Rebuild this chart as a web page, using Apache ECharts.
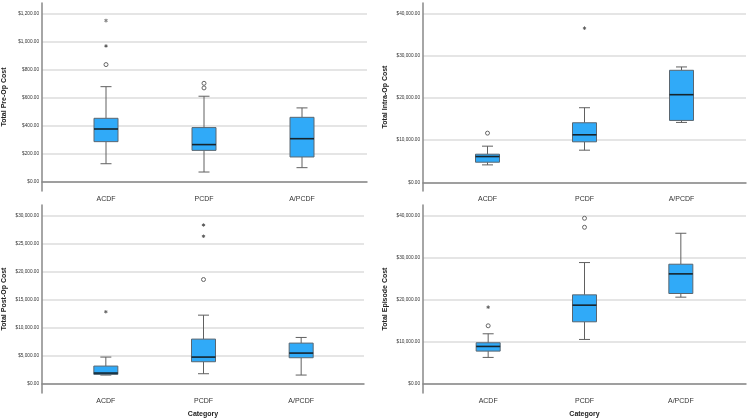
<!DOCTYPE html>
<html><head><meta charset="utf-8">
<script src="https://cdn.jsdelivr.net/npm/echarts@6/dist/echarts.min.js"></script>
<style>html,body{margin:0;padding:0;background:#fff}#c{width:750px;height:420px}</style>
</head><body><div id="c"></div>
<script>
const categories = ['ACDF', 'PCDF', 'A/PCDF'];

const preOpBox = [[130, 287, 377, 453, 678], [71, 225, 266, 387, 610], [102, 178, 308, 460, 527]];
const preOpCircles = [[0, 835], [1, 702], [1, 669]];
const preOpStars = [[0, 968], [0, 1148]];
const preOpTicks = [0, 200, 400, 600, 800, 1000, 1200];

const intraOpBox = [[4118, 4752, 6098, 6653, 8554], [7603, 9583, 11246, 14098, 17662], [14177, 14652, 20750, 26532, 27324]];
const intraOpCircles = [[0, 11642]];
const intraOpStars = [[1, 36511]];
const intraOpTicks = [0, 10000, 20000, 30000, 40000];

const postOpBox = [[1541, 1660, 1897, 3142, 4743], [1779, 3913, 4743, 7945, 12214], [1541, 4625, 5455, 7233, 8241]];
const postOpCircles = [[1, 18558]];
const postOpStars = [[0, 12806], [1, 26265], [1, 28281]];
const postOpTicks = [0, 5000, 10000, 15000, 20000, 25000, 30000];

const episodeBox = [[6245, 7747, 8854, 9723, 11858], [10514, 14703, 18656, 21106, 28774], [20553, 21423, 26087, 28379, 35731]];
const episodeCircles = [[0, 13755], [1, 37154], [1, 39288]];
const episodeStars = [[0, 18182]];
const episodeTicks = [0, 10000, 20000, 30000, 40000];

const panels = [
  {name: 'Total Pre-Op Cost', box: preOpBox, circles: preOpCircles, stars: preOpStars, ticks: preOpTicks,
   range: [-64, 1273], outer: {left: 40, top: 3, width: 327, height: 188}, inner: {left: 57, width: 294}, xTitle: false},
  {name: 'Total Intra-Op Cost', box: intraOpBox, circles: intraOpCircles, stars: intraOpStars, ticks: intraOpTicks,
   range: [-2068, 42472], outer: {left: 423, top: 3, width: 323, height: 188}, inner: {left: 439, width: 291}, xTitle: false},
  {name: 'Total Post-Op Cost', box: postOpBox, circles: postOpCircles, stars: postOpStars, ticks: postOpTicks,
   range: [-1654, 31832], outer: {left: 41, top: 205, width: 323, height: 188}, inner: {left: 57, width: 293}, xTitle: true},
  {name: 'Total Episode Cost', box: episodeBox, circles: episodeCircles, stars: episodeStars, ticks: episodeTicks,
   range: [-2205, 42442], outer: {left: 423, top: 205, width: 323, height: 188}, inner: {left: 440, width: 289}, xTitle: true}
];

// asterisk symbol path
function asteriskPath() {
  const L = 5, w = 1.1;
  let p = '';
  [90, 30, 150].forEach(function (deg) {
    const a = deg * Math.PI / 180, c = Math.cos(a), s = Math.sin(a);
    const pts = [[L * c - w * s, L * s + w * c], [L * c + w * s, L * s - w * c], [-L * c + w * s, -L * s - w * c], [-L * c - w * s, -L * s + w * c]];
    p += 'M' + pts.map(function (q) { return q[0].toFixed(2) + ',' + q[1].toFixed(2); }).join('L') + 'Z';
  });
  return 'path://' + p;
}
const STAR = asteriskPath();

function money(v) {
  return '$' + Number(v).toLocaleString('en-US', {minimumFractionDigits: 2, maximumFractionDigits: 2});
}

const BOX_W = 24, CAP_W = 11;
function renderBox(params, api) {
  const x = api.value(0);
  const pMin = api.coord([x, api.value(1)]);
  const pQ1 = api.coord([x, api.value(2)]);
  const pMed = api.coord([x, api.value(3)]);
  const pQ3 = api.coord([x, api.value(4)]);
  const pMax = api.coord([x, api.value(5)]);
  const cx = pMed[0];
  const wStyle = {stroke: '#606060', lineWidth: 1};
  return {type: 'group', children: [
    {type: 'line', shape: {x1: cx, y1: pMax[1], x2: cx, y2: pQ3[1]}, style: wStyle},
    {type: 'line', shape: {x1: cx, y1: pQ1[1], x2: cx, y2: pMin[1]}, style: wStyle},
    {type: 'line', shape: {x1: cx - CAP_W / 2, y1: pMax[1], x2: cx + CAP_W / 2, y2: pMax[1]}, style: wStyle},
    {type: 'line', shape: {x1: cx - CAP_W / 2, y1: pMin[1], x2: cx + CAP_W / 2, y2: pMin[1]}, style: wStyle},
    {type: 'rect', shape: {x: cx - BOX_W / 2, y: pQ3[1], width: BOX_W, height: pQ1[1] - pQ3[1]},
     style: {fill: '#30aaf8', stroke: '#5a6670', lineWidth: 1}},
    {type: 'line', shape: {x1: cx - BOX_W / 2, y1: pMed[1], x2: cx + BOX_W / 2, y2: pMed[1]},
     style: {stroke: '#16242c', lineWidth: 1.6}}
  ]};
}

const grid = [], xAxis = [], yAxis = [], series = [];
panels.forEach(function (p, i) {
  const o = i * 2, n = i * 2 + 1;
  grid.push({left: p.outer.left, top: p.outer.top, width: p.outer.width, height: p.outer.height});
  grid.push({left: p.inner.left, top: p.outer.top, width: p.inner.width, height: p.outer.height});
  xAxis.push({gridIndex: o, type: 'value', min: 0, max: 1,
    axisLine: {show: true, lineStyle: {color: '#888', width: 1.5}}, axisTick: {show: false}, axisLabel: {show: false}, splitLine: {show: false},
    name: p.xTitle ? 'Category' : '', nameLocation: 'middle', nameGap: 18,
    nameTextStyle: {fontFamily: 'Liberation Sans', fontWeight: 'bold', fontSize: 7, color: '#222'}});
  xAxis.push({gridIndex: n, type: 'category', data: categories,
    axisLine: {show: false}, axisTick: {show: false},
    axisLabel: {fontFamily: 'Liberation Sans', fontSize: 7, color: '#333', margin: 5}});
  yAxis.push({gridIndex: o, type: 'value', min: p.range[0], max: p.range[1],
    name: p.name, nameLocation: 'middle', nameGap: 34,
    nameTextStyle: {fontFamily: 'Liberation Sans', fontWeight: 'bold', fontSize: 7, color: '#222'},
    axisLine: {show: true, lineStyle: {color: '#888', width: 1.5}},
    axisTick: {show: false, customValues: p.ticks},
    axisLabel: {customValues: p.ticks, formatter: money, fontFamily: 'Liberation Sans', fontSize: 4.7, color: '#333', margin: 3},
    splitLine: {show: true, lineStyle: {color: '#dcdcdc', width: 1.5}}});
  yAxis.push({gridIndex: n, type: 'value', min: p.range[0], max: p.range[1], show: false, splitLine: {show: false}});
  series.push({type: 'custom', xAxisIndex: n, yAxisIndex: n, renderItem: renderBox, silent: true,
    encode: {x: 0, y: [1, 2, 3, 4, 5]},
    data: p.box.map(function (b, k) { return [k].concat(b); })});
  series.push({type: 'scatter', xAxisIndex: n, yAxisIndex: n, symbol: 'circle', symbolSize: 4,
    data: p.circles, itemStyle: {color: '#ffffff', borderColor: '#666666', borderWidth: 1, opacity: 1}, silent: true});
  series.push({type: 'scatter', xAxisIndex: n, yAxisIndex: n, symbol: STAR, symbolSize: 3.6,
    data: p.stars, itemStyle: {color: '#333'}, silent: true});
});

const chart = echarts.init(document.getElementById('c'), null, {renderer: 'canvas'});
chart.setOption({animation: false, backgroundColor: '#fff', grid: grid, xAxis: xAxis, yAxis: yAxis, series: series});
</script>
</body></html>
